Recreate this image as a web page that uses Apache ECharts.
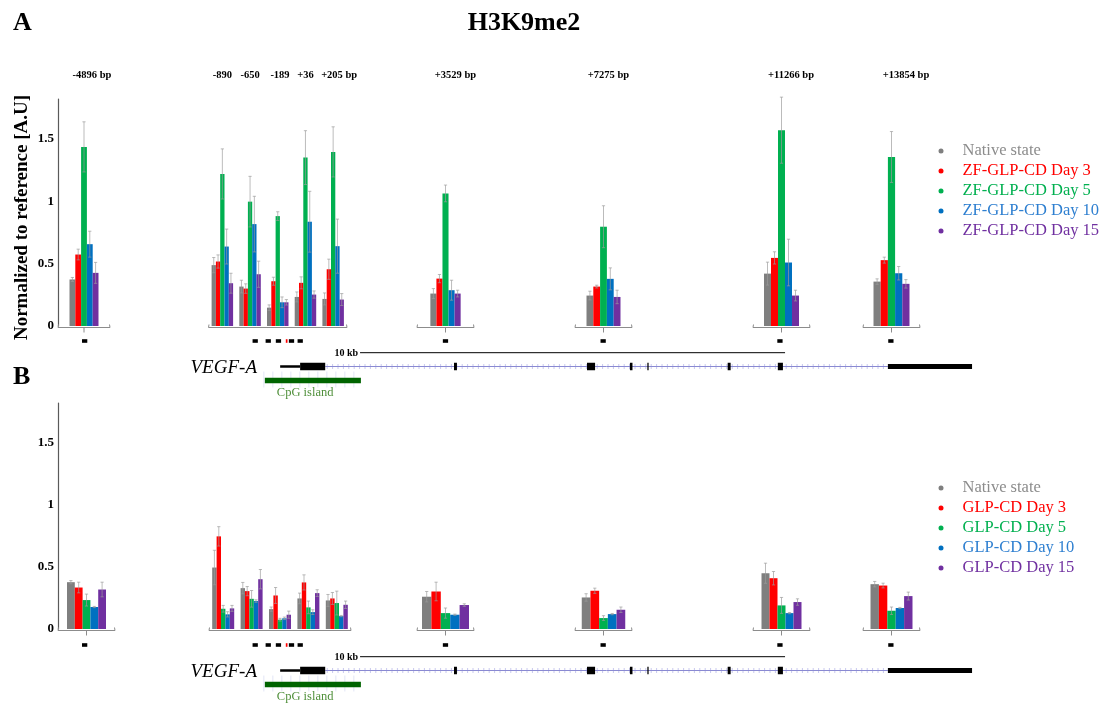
<!DOCTYPE html>
<html>
<head>
<meta charset="utf-8">
<script src="https://cdn.jsdelivr.net/npm/echarts@6/dist/echarts.min.js"></script>
<style>html,body{margin:0;padding:0;background:#fff}#c{width:1107px;height:704px}</style>
</head>
<body>
<div id="c"></div>
<script>
// ---------------- DATA ----------------
const SITE_LABELS = ['-4896 bp', '-890', '-650', '-189', '+36', '+205 bp', '+3529 bp', '+7275 bp', '+11266 bp', '+13854 bp'];

const NAMES_A = ['Native state', 'ZF-GLP-CD Day 3', 'ZF-GLP-CD Day 5', 'ZF-GLP-CD Day 10', 'ZF-GLP-CD Day 15'];
const NAMES_B = ['Native state', 'GLP-CD Day 3', 'GLP-CD Day 5', 'GLP-CD Day 10', 'GLP-CD Day 15'];

// Panel A (ZF-GLP-CD) – values per site
const A_NATIVE = [0.373, 0.488, 0.316, 0.147, 0.233, 0.217, 0.260, 0.244, 0.420, 0.356];
const A_DAY3   = [0.573, 0.517, 0.300, 0.359, 0.346, 0.455, 0.380, 0.316, 0.546, 0.528];
const A_DAY5   = [1.436, 1.219, 0.997, 0.881, 1.350, 1.396, 1.063, 0.796, 1.570, 1.355];
const A_DAY10  = [0.656, 0.637, 0.817, 0.190, 0.836, 0.640, 0.287, 0.378, 0.509, 0.423];
const A_DAY15  = [0.426, 0.343, 0.415, 0.190, 0.252, 0.212, 0.260, 0.233, 0.244, 0.338];
// Panel A – error (SD) per site
const A_NATIVE_ERR = [0.016, 0.061, 0.051, 0.022, 0.040, 0.048, 0.040, 0.035, 0.092, 0.022];
const A_DAY3_ERR   = [0.043, 0.053, 0.038, 0.032, 0.048, 0.081, 0.033, 0.011, 0.049, 0.024];
const A_DAY5_ERR   = [0.201, 0.201, 0.203, 0.035, 0.216, 0.201, 0.067, 0.168, 0.265, 0.204];
const A_DAY10_ERR  = [0.104, 0.140, 0.223, 0.043, 0.244, 0.217, 0.080, 0.088, 0.187, 0.054];
const A_DAY15_ERR  = [0.084, 0.080, 0.105, 0.022, 0.029, 0.048, 0.027, 0.054, 0.043, 0.034];

// Panel B (GLP-CD) – values per site
const B_NATIVE = [0.377, 0.495, 0.329, 0.160, 0.246, 0.230, 0.260, 0.254, 0.449, 0.361];
const B_DAY3   = [0.334, 0.746, 0.305, 0.270, 0.375, 0.246, 0.302, 0.308, 0.409, 0.350];
const B_DAY5   = [0.233, 0.163, 0.243, 0.075, 0.174, 0.209, 0.128, 0.088, 0.190, 0.147];
const B_DAY10  = [0.177, 0.118, 0.225, 0.086, 0.136, 0.104, 0.115, 0.120, 0.128, 0.169];
const B_DAY15  = [0.318, 0.166, 0.401, 0.115, 0.289, 0.195, 0.193, 0.155, 0.217, 0.265];
// Panel B – error (SD) per site
const B_NATIVE_ERR = [0.013, 0.139, 0.046, 0.017, 0.043, 0.048, 0.042, 0.030, 0.081, 0.022];
const B_DAY3_ERR   = [0.043, 0.078, 0.037, 0.064, 0.061, 0.048, 0.075, 0.021, 0.054, 0.019];
const B_DAY5_ERR   = [0.048, 0.027, 0.067, 0.011, 0.051, 0.096, 0.041, 0.019, 0.064, 0.030];
const B_DAY10_ERR  = [0.005, 0.021, 0.010, 0.010, 0.019, 0.005, 0.005, 0.005, 0.005, 0.005];
const B_DAY15_ERR  = [0.059, 0.024, 0.078, 0.029, 0.027, 0.030, 0.010, 0.022, 0.026, 0.032];

const Y_TICKS = [0, 0.5, 1, 1.5];

// Gene schematic (kb relative to TSS)
const GENE_UTR5 = [[-0.42, 0.05]];
const GENE_INTRON = [[0.64, 13.88]];
const GENE_EXONS = [[0.05, 0.64], [3.67, 3.74], [6.80, 6.99], [7.81, 7.87], [8.22, 8.25], [10.11, 10.18], [11.29, 11.41]];
const GENE_UTR3 = [[13.88, 15.86]];
const CPG_ISLAND = [[-0.78, 1.48]];
const SCALE_BAR = [[1.46, 11.46]];
const PRIMERS_KB = [-5.02, -1.007, -0.70, -0.46, -0.153, 0.052, 3.47, 7.18, 11.34, 13.95];
const PRIMER_RED_KB = [-0.267];

// ---------------- LAYOUT / STYLE ----------------
const FONT = '"Liberation Serif", "Times New Roman", serif';
const BAR_COLORS = ['#7f7f7f', '#ff0000', '#00b050', '#0070c0', '#7030a0'];
const LEGEND_TEXT_COLORS = ['#8c8c8c', '#ff0000', '#00b050', '#2e7fd0', '#7030a0'];
const GRID_SITES = [[0], [1, 2, 3, 4, 5], [6], [7], [8], [9]];
const LABEL_PAD = [16, 0, 0, 4.5, 0, 12, 20, 10, 19, 29];
const PX_PER_KB = 42.5, TSS_PX = 298;
const XMIN = -TSS_PX / PX_PER_KB, XMAX = (1107 - TSS_PX) / PX_PER_KB;

const PANELS = [
  {
    names: NAMES_A,
    values: [A_NATIVE, A_DAY3, A_DAY5, A_DAY10, A_DAY15],
    errors: [A_NATIVE_ERR, A_DAY3_ERR, A_DAY5_ERR, A_DAY10_ERR, A_DAY15_ERR],
    top: 99, height: 227, siteLabels: true, yName: 'Normalized to reference [A.U]',
    grids: [
      { left: 58, width: 52, bw: 5.8 },
      { left: 208.5, width: 138.5, bw: 4.3 },
      { left: 417, width: 57, bw: 6.06 },
      { left: 575, width: 57, bw: 6.8 },
      { left: 753, width: 57, bw: 7.0 },
      { left: 863, width: 57, bw: 7.2 }
    ],
    legendTop: 136, diagTop: 330
  },
  {
    names: NAMES_B,
    values: [B_NATIVE, B_DAY3, B_DAY5, B_DAY10, B_DAY15],
    errors: [B_NATIVE_ERR, B_DAY3_ERR, B_DAY5_ERR, B_DAY10_ERR, B_DAY15_ERR],
    top: 403, height: 226, siteLabels: false, yName: '',
    grids: [
      { left: 58, width: 57, bw: 7.8 },
      { left: 209, width: 142, bw: 4.4 },
      { left: 417, width: 57, bw: 9.4 },
      { left: 575, width: 57, bw: 8.7 },
      { left: 753, width: 57, bw: 8.0 },
      { left: 863, width: 57, bw: 8.4 }
    ],
    legendTop: 473, diagTop: 634
  }
];

// ---------------- RENDERERS ----------------
function errRenderer(bw) {
  return function (params, api) {
    const k = api.value(0), v = api.value(1), e = api.value(2), j = api.value(3);
    const base = api.coord([k, v]);
    const x = base[0] + (j - 2) * bw;
    const yt = api.coord([k, v + e])[1];
    const yb = api.coord([k, Math.max(0, v - e)])[1];
    const cap = 1.6;
    const st = { stroke: '#9a9a9a', lineWidth: 0.8, opacity: 0.85 };
    return {
      type: 'group', children: [
        { type: 'line', shape: { x1: x, y1: yb, x2: x, y2: yt }, style: st },
        { type: 'line', shape: { x1: x - cap, y1: yt, x2: x + cap, y2: yt }, style: st },
        { type: 'line', shape: { x1: x - cap, y1: yb, x2: x + cap, y2: yb }, style: st }
      ]
    };
  };
}

function bracketRenderer(single) {
  return function (params, api) {
    const cs = params.coordSys;
    const y = cs.y + cs.height + 1.5;
    const x1 = cs.x, x2 = cs.x + cs.width, xm = cs.x + cs.width / 2;
    const st = { stroke: '#8c8c8c', lineWidth: 1, fill: null };
    const ch = [
      { type: 'line', shape: { x1: x1, y1: y, x2: x2, y2: y }, style: st },
      { type: 'line', shape: { x1: x1, y1: y, x2: x1 + 0.5, y2: y - 3 }, style: st },
      { type: 'line', shape: { x1: x2, y1: y, x2: x2 - 0.5, y2: y - 3 }, style: st }
    ];
    if (single) ch.push({ type: 'line', shape: { x1: xm, y1: y, x2: xm, y2: y + 5 }, style: st });
    return { type: 'group', children: ch };
  };
}

const DIAG_H = 68;
const ROW = { primer: 11, scale: 22.7, gene: 36.5, cpg: 50.5, cpgLabel: 63 };
function diagramRenderer(params, api) {
  const s = api.value(0), e = api.value(1), kind = api.value(2);
  const px = v => api.coord([v, 0])[0];
  const py = r => api.coord([0, r])[1];
  const x1 = px(s), x2 = px(e);
  const rect = (h, row, color) => ({ type: 'rect', shape: { x: x1, y: py(row) - h / 2, width: Math.max(1, x2 - x1), height: h }, style: { fill: color } });
  const yg = py(ROW.gene);
  if (kind === 0) return rect(2.5, ROW.gene, '#000');
  if (kind === 1) return rect(7.5, ROW.gene, '#000');
  if (kind === 2) return rect(5, ROW.gene, '#000');
  if (kind === 3) {
    const ch = [];
    for (let x = x1 + 2; x < x2; x += 5.4) {
      ch.push({ type: 'line', shape: { x1: x, y1: yg - 2.5, x2: x, y2: yg + 2.5 }, style: { stroke: '#c8c8ee', lineWidth: 1 } });
    }
    ch.push({ type: 'line', shape: { x1: x1, y1: yg, x2: x2, y2: yg }, style: { stroke: '#8a8ad2', lineWidth: 1 } });
    return { type: 'group', children: ch };
  }
  if (kind === 4) {
    const ch = [];
    const yc = py(ROW.cpg);
    for (let x = x1 - 1; x <= x2 + 1; x += 9) {
      ch.push({ type: 'line', shape: { x1: x, y1: yc - 9, x2: x, y2: yc + 7 }, style: { stroke: '#e2e5f6', lineWidth: 1 } });
    }
    ch.push(rect(5.5, ROW.cpg, '#006400'));
    ch.push({ type: 'text', x: x1 + 12, y: py(ROW.cpgLabel), style: { text: 'CpG island', fill: '#4f8f3a', font: '12.5px ' + FONT, textAlign: 'left', textVerticalAlign: 'middle' } });
    return { type: 'group', children: ch };
  }
  if (kind === 5) return rect(3.6, ROW.primer, '#000');
  if (kind === 6) return rect(3.6, ROW.primer, '#ff0000');
  if (kind === 7) {
    const ys = py(ROW.scale);
    return {
      type: 'group', children: [
        { type: 'line', shape: { x1: x1, y1: ys, x2: x2, y2: ys }, style: { stroke: '#000', lineWidth: 1 } },
        { type: 'text', x: x1 - 2, y: ys + 1, style: { text: '10 kb', fill: '#000', font: 'bold 10px ' + FONT, textAlign: 'right', textVerticalAlign: 'middle' } }
      ]
    };
  }
  if (kind === 8) {
    return { type: 'text', x: x1, y: yg + 1.5, style: { text: 'VEGF-A', fill: '#000', font: 'italic 19px ' + FONT, textAlign: 'right', textVerticalAlign: 'middle' } };
  }
  return null;
}

// ---------------- BUILD OPTION ----------------
const grid = [], xAxis = [], yAxis = [], series = [], legend = [];
const richPad = {};
SITE_LABELS.forEach((l, i) => {
  richPad['p' + i] = { fontFamily: FONT, fontWeight: 'bold', fontSize: 10.5, color: '#000', padding: [0, 0, 0, LABEL_PAD[i]] };
});

PANELS.forEach((P, pi) => {
  P.grids.forEach((G, gi) => {
    const idx = grid.length;
    const sites = GRID_SITES[gi];
    grid.push({ left: G.left, top: P.top, width: G.width, height: P.height });
    xAxis.push({
      type: 'category', gridIndex: idx, position: 'top',
      data: sites.map(s => SITE_LABELS[s]),
      axisLine: { show: false }, axisTick: { show: false }, splitLine: { show: false },
      axisLabel: {
        show: P.siteLabels, interval: 0, margin: 18,
        fontFamily: FONT, fontWeight: 'bold', fontSize: 10.5, color: '#000',
        formatter: (val, i) => '{p' + sites[i] + '|' + val + '}',
        rich: richPad
      }
    });
    yAxis.push({
      type: 'value', gridIndex: idx, min: 0, max: 1.82, interval: 0.5, show: gi === 0,
      axisLine: { show: true, lineStyle: { color: '#5a5a5a', width: 1.2 } },
      axisTick: { show: false }, splitLine: { show: false },
      axisLabel: {
        fontFamily: FONT, fontWeight: 'bold', fontSize: 13, color: '#000', margin: 4, showMaxLabel: false,
        formatter: v => (Y_TICKS.some(t => Math.abs(t - v) < 1e-9) ? String(v) : '')
      },
      name: gi === 0 ? P.yName : '', nameLocation: 'middle', nameGap: 26,
      nameTextStyle: { fontFamily: FONT, fontWeight: 'bold', fontSize: 19, color: '#000', padding: [0, 10, 0, 0] }
    });
    // bracket
    series.push({
      type: 'custom', xAxisIndex: idx, yAxisIndex: idx, silent: true, z: 1,
      data: [[0, 0]], renderItem: bracketRenderer(sites.length === 1)
    });
    // bars
    for (let j = 0; j < 5; j++) {
      series.push({
        type: 'bar', name: P.names[j], xAxisIndex: idx, yAxisIndex: idx,
        data: sites.map(s => P.values[j][s]),
        barWidth: G.bw, barGap: '0%', silent: true, z: 2,
        itemStyle: { color: BAR_COLORS[j] }
      });
    }
    // error bars
    const errData = [];
    sites.forEach((s, k) => {
      for (let j = 0; j < 5; j++) errData.push([k, P.values[j][s], P.errors[j][s], j]);
    });
    series.push({
      type: 'custom', xAxisIndex: idx, yAxisIndex: idx, silent: true, z: 3,
      data: errData, encode: { x: 0, y: 1 }, renderItem: errRenderer(G.bw)
    });
  });

  // gene schematic grid
  const didx = grid.length;
  grid.push({ left: 0, width: 1107, top: P.diagTop, height: DIAG_H });
  xAxis.push({ type: 'value', gridIndex: didx, min: XMIN, max: XMAX, show: false });
  yAxis.push({ type: 'value', gridIndex: didx, min: 0, max: DIAG_H, inverse: true, show: false });
  const diag = [];
  GENE_UTR5.forEach(d => diag.push([d[0], d[1], 0]));
  GENE_INTRON.forEach(d => diag.push([d[0], d[1], 3]));
  GENE_EXONS.forEach(d => diag.push([d[0], d[1], 1]));
  GENE_UTR3.forEach(d => diag.push([d[0], d[1], 2]));
  CPG_ISLAND.forEach(d => diag.push([d[0], d[1], 4]));
  SCALE_BAR.forEach(d => diag.push([d[0], d[1], 7]));
  PRIMERS_KB.forEach(c => diag.push([c - 0.062, c + 0.062, 5]));
  PRIMER_RED_KB.forEach(c => diag.push([c - 0.02, c + 0.02, 6]));
  diag.push([-0.965, -0.965, 8]);
  series.push({
    type: 'custom', xAxisIndex: didx, yAxisIndex: didx, silent: true, z: 2,
    data: diag, renderItem: diagramRenderer
  });

  legend.push({
    orient: 'vertical', left: 933.5, top: P.legendTop, icon: 'circle',
    itemWidth: 5, itemHeight: 5, itemGap: 0, selectedMode: false,
    textStyle: { fontFamily: FONT, fontSize: 16.5, lineHeight: 20, padding: [0, 0, 0, 14] },
    data: P.names.map((n, i) => ({ name: n, textStyle: { color: LEGEND_TEXT_COLORS[i] } }))
  });
});

const option = {
  backgroundColor: '#ffffff',
  animation: false,
  grid, xAxis, yAxis, series, legend,
  graphic: [
    { type: 'text', left: 13, top: 10, style: { text: 'A', font: 'bold 26px ' + FONT, fill: '#000' } },
    { type: 'text', left: 13, top: 364, style: { text: 'B', font: 'bold 26px ' + FONT, fill: '#000' } },
    { type: 'text', x: 524, y: 23, style: { text: 'H3K9me2', font: 'bold 26px ' + FONT, fill: '#000', textAlign: 'center', textVerticalAlign: 'middle' } }
  ]
};

const chart = echarts.init(document.getElementById('c'), null, { renderer: 'canvas' });
chart.setOption(option);
</script>
</body>
</html>
